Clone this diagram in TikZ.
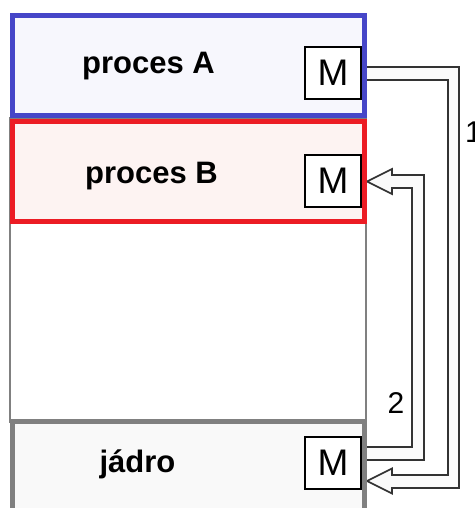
\documentclass[tikz,border=0pt]{standalone}
\usepackage{fontspec}
\setmainfont{Liberation Sans}
\usetikzlibrary{calc}
\definecolor{boxblue}{HTML}{4646C8}
\definecolor{boxred}{HTML}{EC1C24}
\definecolor{boxgray}{HTML}{808080}
\definecolor{fillA}{HTML}{F7F7FD}
\definecolor{fillB}{HTML}{FDF3F2}
\definecolor{fillK}{HTML}{F9F9F9}
\definecolor{arrline}{HTML}{333333}
\definecolor{arrfill}{HTML}{FAFAFA}
\tikzset{
  membox/.style={draw, line width=5pt, minimum width=352pt, minimum height=100pt, inner sep=0pt},
  mbox/.style={draw=black, fill=white, line width=1.4pt, minimum width=56pt, minimum height=52pt, inner sep=0pt, font=\fontsize{37}{40}\selectfont},
  lbl/.style={font=\bfseries\fontsize{31}{34}\selectfont, anchor=base, inner sep=0pt},
  num/.style={font=\fontsize{30}{32}\selectfont, anchor=base, inner sep=0pt},
  hollow/.style={draw=arrline, fill=arrfill, line width=1.7pt, line join=miter}
}
\begin{document}
\begin{tikzpicture}[x=1pt,y=-1pt]
\useasboundingbox (0,0) rectangle (474,508);
\clip (0,0) rectangle (474,508);
% middle (free) area outline
\node[draw=boxgray, fill=white, line width=1.5pt, minimum width=356pt, minimum height=304pt, inner sep=0pt] (free) at (188,270) {};
% hollow arrows
\coordinate (s1) at (366,73.5);
\coordinate (t1) at (367,481);
\coordinate (s2) at (366,453.5);
\coordinate (t2) at (367,181.5);
\path[hollow] ($(s1)+(0,-6.5)$) -- (459,67) -- (459,488) -- (392,488) -- (392,493.5) -- (t1) -- (392,468.5) -- (392,475) -- (448,475) -- (448,80) -- ($(s1)+(0,6.5)$) -- cycle;
\path[hollow] ($(s2)+(0,-6.5)$) -- (412,447) -- (412,188) -- (392,188) -- (392,194) -- (t2) -- (392,169) -- (392,175) -- (424,175) -- (424,460) -- ($(s2)+(0,6.5)$) -- cycle;
% process and kernel boxes
\node[membox, draw=boxblue, fill=fillA] (boxA) at (188,65.5) {};
\node[membox, draw=boxred, fill=fillB] (boxB) at (188,171) {};
\node[membox, draw=boxgray, fill=fillK, minimum height=110pt] (boxK) at (188,476) {};
% message boxes
\node[mbox] (mA) at (333,73) {M};
\node[mbox] (mB) at (333,181) {M};
\node[mbox] (mK) at (333,463) {M};
% labels
\node[lbl] (tA) at (148.5,74) {proces A};
\node[lbl] (tB) at (151.5,183) {proces B};
\node[lbl] (tK) at (137.5,472) {jádro};
\node[num] (n2) at (396,413) {2};
\node[num, anchor=base west] (n1) at (465,142) {1};
\end{tikzpicture}
\end{document}
